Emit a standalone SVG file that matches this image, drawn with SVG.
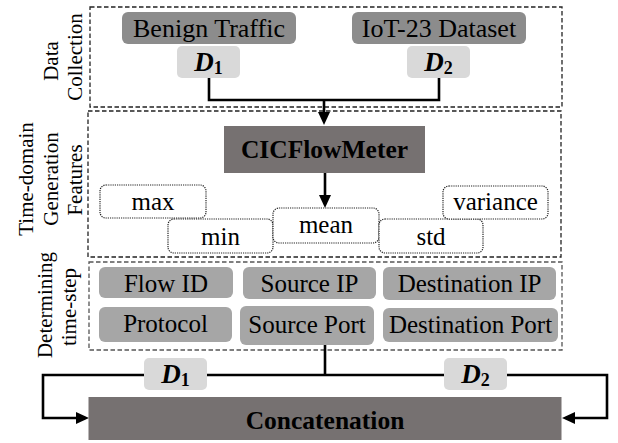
<svg xmlns="http://www.w3.org/2000/svg" width="618" height="443" viewBox="0 0 618 443">
<style>
text{font-family:"Liberation Serif","Times New Roman",serif;fill:#000;text-anchor:middle}
.lbl{font-size:25px}
.top{font-size:26px}
.side{font-size:21px}
.bold{font-size:25.5px;font-weight:bold}
.dk{fill:#8c8c8c}
.md{fill:#a6a6a6}
.lt{fill:#d9d9d9}
.black{fill:#767171}
.dot{fill:#fff;stroke:#222;stroke-width:1.2;stroke-dasharray:1.2 1}
.dash{fill:none;stroke:#222;stroke-width:1.3;stroke-dasharray:4.5 2.5}
.dash3{fill:none;stroke:#555;stroke-width:1.3;stroke-dasharray:4.5 2.5}
.con{fill:none;stroke:#000;stroke-width:2.6}
.D{font-size:27px;font-weight:bold;font-style:italic}
.sub{font-size:18px;font-style:normal;font-weight:bold}
</style>
<defs>
<marker id="ah" viewBox="0 0 13 12" refX="9" refY="6" markerWidth="13" markerHeight="12" markerUnits="userSpaceOnUse" orient="auto">
<path d="M0,0 L13,6 L0,12 z" fill="#000"/>
</marker>
</defs>

<g id="groups">
<rect id="box-data-collection" class="dash" x="90" y="7" width="472" height="100"/>
<rect id="box-features" class="dash" x="88" y="111" width="473" height="146"/>
<rect id="box-timestep" class="dash3" x="89" y="262" width="473" height="88"/>
<text class="side" transform="translate(58,61) rotate(-90)">Data</text>
<text class="side" transform="translate(82,57) rotate(-90)">Collection</text>
<text class="side" transform="translate(33,179) rotate(-90)">Time-domain</text>
<text class="side" transform="translate(58,179) rotate(-90)">Generation</text>
<text class="side" transform="translate(82,180) rotate(-90)">Features</text>
<text class="side" transform="translate(52,305) rotate(-90)">Determining</text>
<text class="side" transform="translate(76,307) rotate(-90)">time-step</text>
</g>

<g id="connectors">
<path class="con" d="M209,78 V100 H439 V78"/>
<path class="con" d="M324,100 V121" marker-end="url(#ah)"/>
<path class="con" d="M325,173 V204" marker-end="url(#ah)"/>
<path class="con" d="M325,345 V375"/>
<path class="con" d="M325,375 H43 V418 H85" marker-end="url(#ah)"/>
<path class="con" d="M325,375 H607 V418 H566" marker-end="url(#ah)"/>
</g>

<g id="benign-traffic"><rect class="dk" x="122" y="12" width="174" height="32" rx="6"/><text class="top" x="209" y="37">Benign Traffic</text></g>
<g id="iot23"><rect class="dk" x="352" y="12" width="174" height="32" rx="6"/><text class="top" x="439" y="37">IoT-23 Dataset</text></g>
<g id="d1-top"><rect class="lt" x="177" y="46" width="63" height="32" rx="5"/><text class="D" x="208.5" y="71">D<tspan class="sub" dy="3">1</tspan></text></g>
<g id="d2-top"><rect class="lt" x="407" y="46" width="63" height="32" rx="5"/><text class="D" x="438.5" y="71">D<tspan class="sub" dy="3">2</tspan></text></g>

<g id="cicflowmeter"><rect class="black" x="224" y="126" width="201" height="47"/><text class="bold" x="324.5" y="158">CICFlowMeter</text></g>
<g id="max"><rect class="dot" x="100" y="185" width="106" height="33" rx="6"/><text class="lbl" x="153" y="210">max</text></g>
<g id="min"><rect class="dot" x="168" y="219" width="105" height="34" rx="6"/><text class="lbl" x="220.5" y="245">min</text></g>
<g id="mean"><rect class="dot" x="273" y="208" width="106" height="35" rx="6"/><text class="lbl" x="326" y="233">mean</text></g>
<g id="std"><rect class="dot" x="379" y="219" width="104" height="34" rx="6"/><text class="lbl" x="431" y="245">std</text></g>
<g id="variance"><rect class="dot" x="443" y="186" width="105" height="33" rx="6"/><text class="lbl" x="495.5" y="210">variance</text></g>

<g id="flow-id"><rect class="md" x="99" y="267" width="134" height="31" rx="6"/><text class="lbl" x="166" y="292">Flow ID</text></g>
<g id="source-ip"><rect class="md" x="243" y="267" width="133" height="32" rx="6"/><text class="lbl" x="309.5" y="292">Source IP</text></g>
<g id="destination-ip"><rect class="md" x="383" y="267" width="173" height="33" rx="6"/><text class="lbl" x="469.5" y="292">Destination IP</text></g>
<g id="protocol"><rect class="md" x="99" y="307" width="133" height="35" rx="6"/><text class="lbl" x="165.5" y="332">Protocol</text></g>
<g id="source-port"><rect class="md" x="240" y="306" width="134" height="39" rx="6"/><text class="lbl" x="307" y="333">Source Port</text></g>
<g id="destination-port"><rect class="md" x="383" y="308" width="175" height="34" rx="6"/><text class="lbl" x="470.5" y="333">Destination Port</text></g>

<g id="d1-bottom"><rect class="lt" x="144" y="358" width="63" height="32" rx="5"/><text class="D" x="175.5" y="383">D<tspan class="sub" dy="3">1</tspan></text></g>
<g id="d2-bottom"><rect class="lt" x="444" y="358" width="63" height="32" rx="5"/><text class="D" x="475.5" y="383">D<tspan class="sub" dy="3">2</tspan></text></g>

<g id="concatenation"><rect class="black" x="88.5" y="397" width="473" height="43"/><text class="bold" x="325" y="429">Concatenation</text></g>
</svg>
